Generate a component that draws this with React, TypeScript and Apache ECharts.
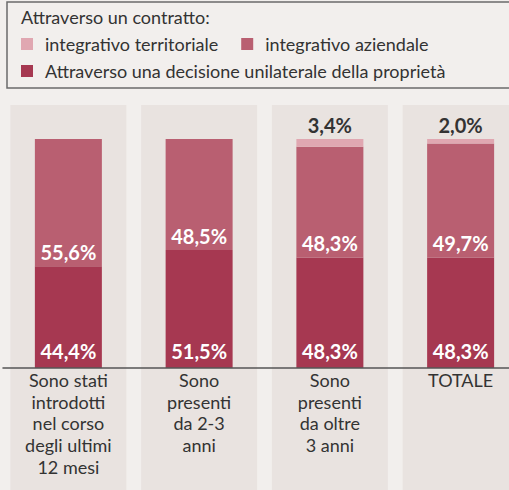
import React, { useEffect, useRef } from "react";
import * as echarts from "echarts";

const categories = [
  "Sono stati\nintrodotti\nnel corso\ndegli ultimi\n12 mesi",
  "Sono\npresenti\nda 2-3\nanni",
  "Sono\npresenti\nda oltre\n3 anni",
  "TOTALE",
];
const unilaterale = [44.4, 51.5, 48.3, 48.3];
const aziendale = [55.6, 48.5, 48.3, 49.7];
const territoriale = [0, 0, 3.4, 2.0];
const seriesNames = [
  "integrativo territoriale",
  "integrativo aziendale",
  "Attraverso una decisione unilaterale della proprietà",
];
const legendTitle = "Attraverso un contratto:";

const FONT = "Lato";
const C_DARK = "#a63851";
const C_MID = "#b95f71";
const C_LIGHT = "#e0a7b1";
const C_BAND = "#e9e3e0";
const C_BG = "#f2efed";

const fmt = (v: number) => (v ? v.toFixed(1).replace(".", ",") + "%" : "");

export default function App() {
  const ref = useRef<HTMLDivElement>(null);
  useEffect(() => {
    if (!ref.current) return;
    const chart = echarts.init(ref.current, undefined, { renderer: "svg" });
    const valueLabel = (pos: string, dist: number, color: string) => ({
      show: true,
      position: pos,
      distance: dist,
      color,
      fontFamily: FONT,
      fontSize: 20,
      fontWeight: "bold",
      formatter: (p: any) => fmt(p.value),
    });
    const legendText = { fontFamily: FONT, fontSize: 18, color: "#333", padding: [0, 0, 0, 7] };
    chart.setOption({
      animation: false,
      backgroundColor: C_BG,
      textStyle: { fontFamily: FONT },
      title: {
        text: legendTitle,
        left: 21,
        top: 8,
        padding: 0,
        textStyle: { fontFamily: FONT, fontSize: 18, fontWeight: "normal", color: "#333" },
      },
      legend: [
        {
          data: [seriesNames[0], seriesNames[1]],
          left: 21,
          top: 35,
          padding: 0,
          icon: "rect",
          itemWidth: 12,
          itemHeight: 12,
          itemGap: 23,
          selectedMode: false,
          textStyle: legendText,
        },
        {
          data: [seriesNames[2]],
          left: 21,
          top: 62,
          padding: 0,
          icon: "rect",
          itemWidth: 12,
          itemHeight: 12,
          selectedMode: false,
          textStyle: legendText,
        },
      ],
      graphic: [
        {
          type: "rect",
          shape: { x: 7, y: 2, width: 520, height: 86 },
          style: { fill: "none", stroke: "#6b6b6b", lineWidth: 1.5 },
          silent: true,
        },
      ],
      grid: [
        { left: 3, right: -17, top: 139, bottom: 122, outerBoundsMode: "none" },
        { left: 3, right: -17, top: 105, bottom: 0, outerBoundsMode: "none" },
      ],
      xAxis: [
        {
          type: "category",
          gridIndex: 0,
          data: categories,
          axisLine: { lineStyle: { color: "#555", width: 1.5 } },
          axisTick: { show: false },
          axisLabel: {
            interval: 0,
            margin: 1,
            fontFamily: FONT,
            fontSize: 18,
            lineHeight: 21.7,
            color: "#333",
            verticalAlign: "top",
          },
          z: 5,
        },
        { type: "category", gridIndex: 1, data: categories, show: false },
      ],
      yAxis: [
        { type: "value", gridIndex: 0, min: 0, max: 100, show: false },
        { type: "value", gridIndex: 1, min: 0, max: 1, show: false },
      ],
      series: [
        {
          name: "band",
          type: "bar",
          xAxisIndex: 1,
          yAxisIndex: 1,
          data: categories.map(() => 1),
          barWidth: 116,
          itemStyle: { color: C_BAND },
          silent: true,
          z: 0,
        },
        {
          name: seriesNames[2],
          type: "bar",
          stack: "s",
          data: unilaterale,
          barWidth: 67,
          itemStyle: { color: C_DARK },
          label: valueLabel("insideBottom", 7, "#fff"),
          z: 3,
        },
        {
          name: seriesNames[1],
          type: "bar",
          stack: "s",
          data: aziendale,
          barWidth: 67,
          itemStyle: { color: C_MID },
          label: valueLabel("insideBottom", 4, "#fff"),
          z: 3,
        },
        {
          name: seriesNames[0],
          type: "bar",
          stack: "s",
          data: territoriale,
          barWidth: 67,
          itemStyle: { color: C_LIGHT },
          label: valueLabel("top", 4, "#333"),
          z: 3,
        },
      ],
    });
    return () => chart.dispose();
  }, []);
  return (
    <div
      ref={ref}
      style={{ position: "absolute", left: 0, top: 0, width: 509, height: 490 }}
    />
  );
}
